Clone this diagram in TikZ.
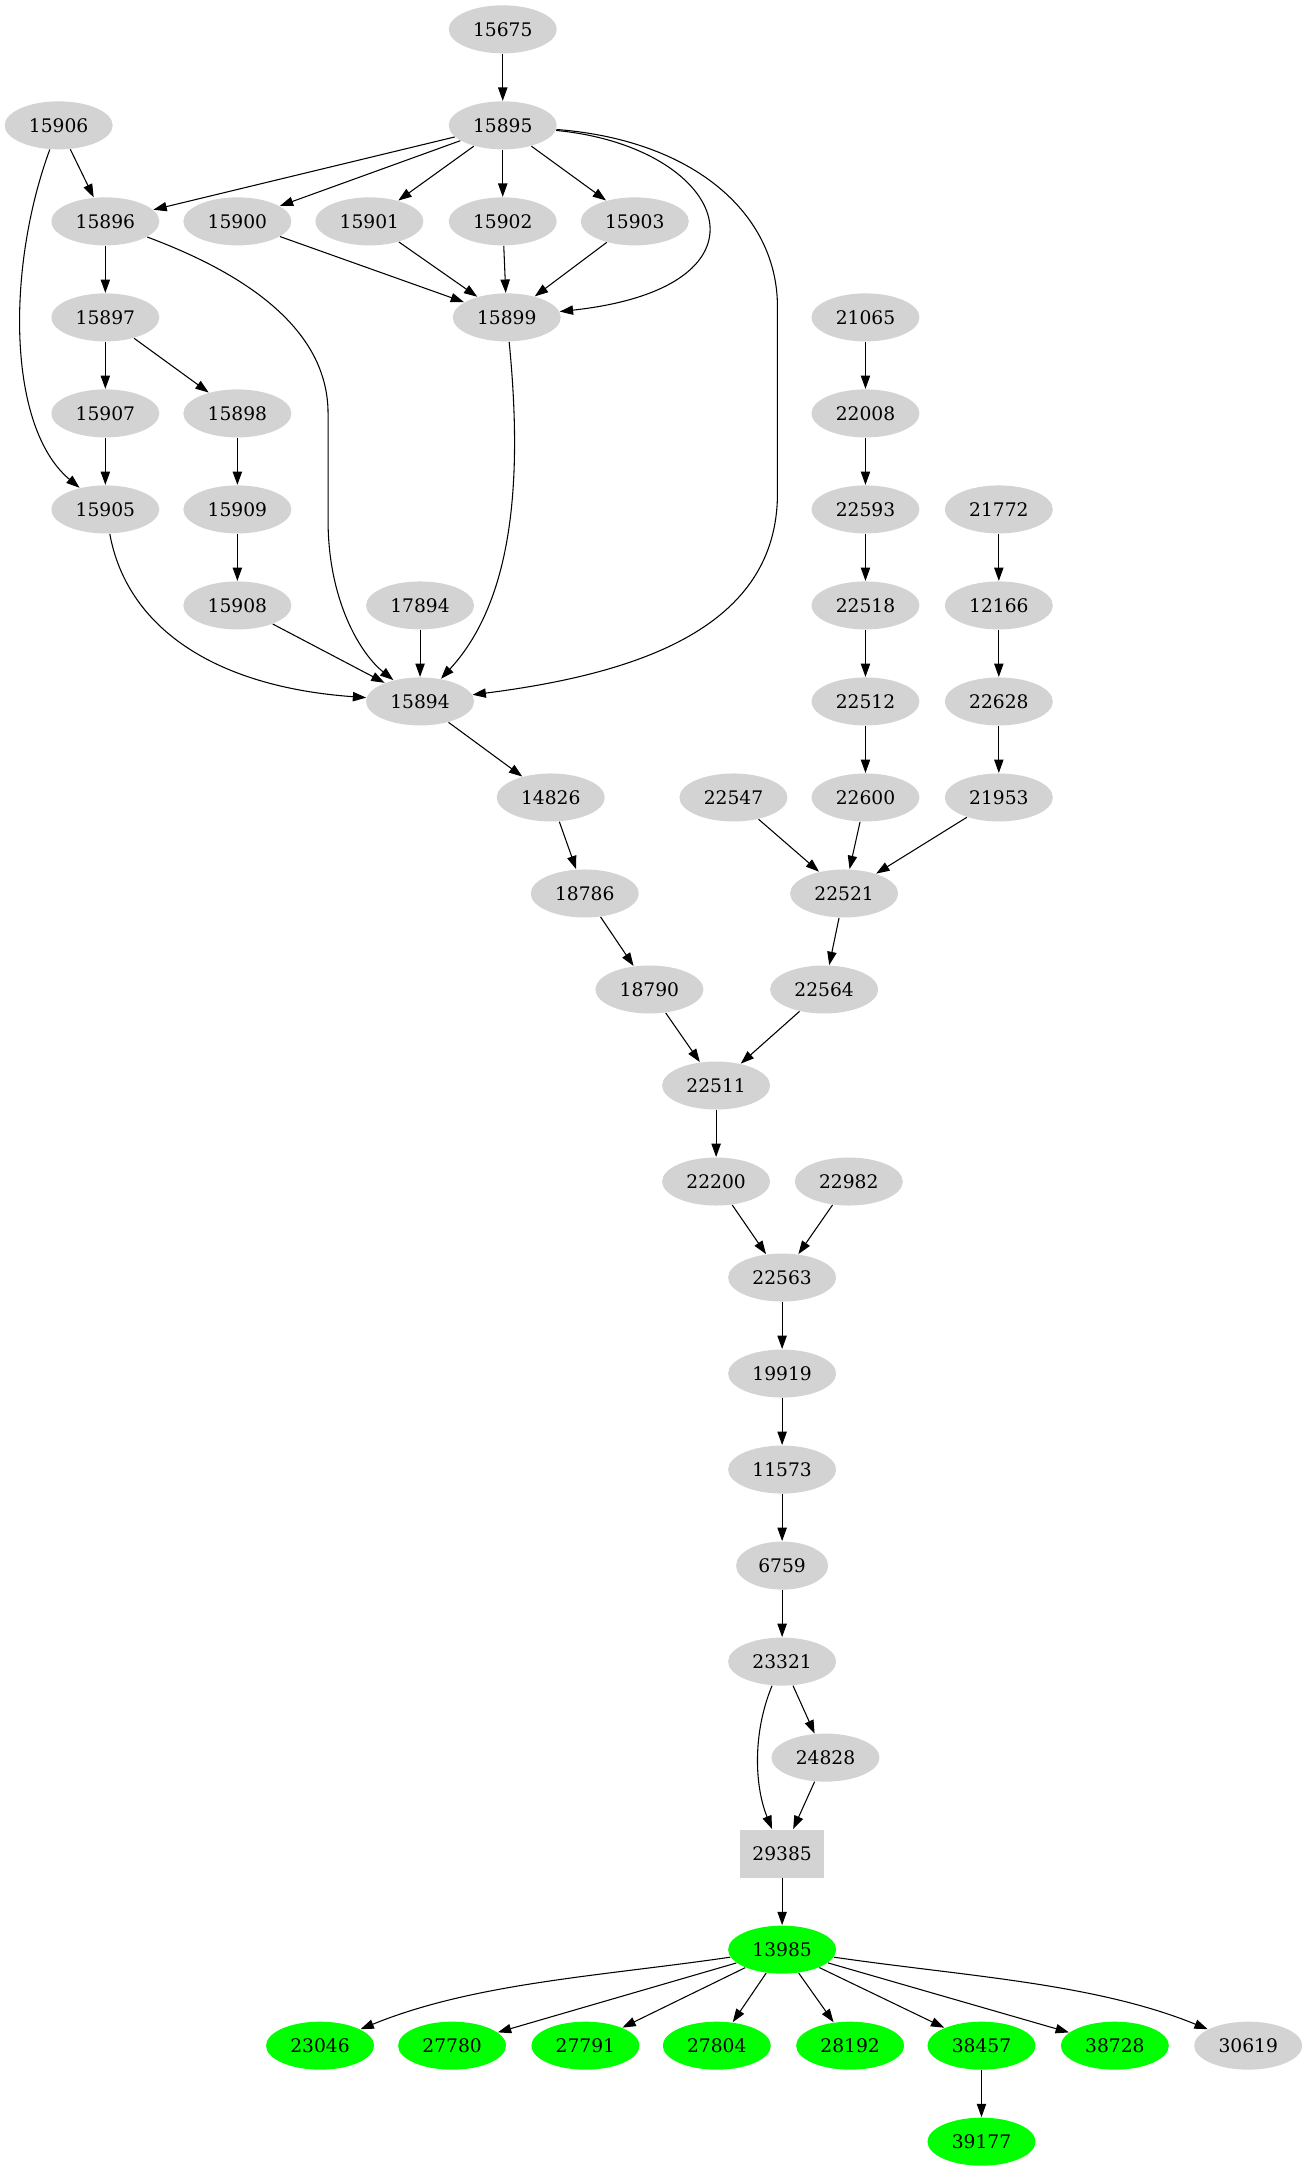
\documentclass[tikz,border=0pt]{standalone}
\usepackage{fontspec}
\setmainfont{DejaVu Serif}
\usetikzlibrary{shapes.geometric}
\usetikzlibrary{arrows.meta}
\definecolor{lgray}{HTML}{D3D3D3}
\definecolor{hitgreen}{HTML}{00FF00}

\begin{document}
\begin{tikzpicture}
[->,>={Triangle[length=10pt,width=7pt]},line width=0.8pt,x=1pt,y=-1pt,%
  every node/.style={shape=ellipse,fill=lgray,inner sep=2pt,%
    minimum width=81pt,minimum height=36pt,font=\fontsize{14}{16}\selectfont},%
  hit/.style={fill=hitgreen}]
\useasboundingbox (0,0) rectangle (976.5,1628);
% upper left block
\node (n15675) at (377,22) {15675};
\node (n15906) at (44,94) {15906};
\node (n15895) at (377,94) {15895};
\node (n15896) at (79,166) {15896};
\node (n15900) at (178,166) {15900};
\node (n15901) at (277,166) {15901};
\node (n15902) at (377,166) {15902};
\node (n15903) at (476,166) {15903};
\node (n15897) at (79,238) {15897};
\node (n15899) at (380,238) {15899};
\node (n15907) at (79,310) {15907};
\node (n15898) at (178,310) {15898};
\node (n15905) at (79,382) {15905};
\node (n15909) at (178,382) {15909};
\node (n15908) at (178,454) {15908};
\node (n17894) at (315,454) {17894};
\node (n15894) at (315,526) {15894};
% right columns
\node (n21065) at (649,238) {21065};
\node (n22008) at (649,310) {22008};
\node (n22593) at (649,382) {22593};
\node (n21772) at (749,382) {21772};
\node (n22518) at (649,454) {22518};
\node (n12166) at (749,454) {12166};
\node (n22512) at (649,526) {22512};
\node (n22628) at (749,526) {22628};
\node (n14826) at (413,598) {14826};
\node (n22547) at (550,598) {22547};
\node (n22600) at (649,598) {22600};
\node (n21953) at (749,598) {21953};
\node (n18786) at (438.5,670) {18786};
\node (n22521) at (633,670) {22521};
\node (n18790) at (487,742) {18790};
\node (n22564) at (618,742) {22564};
% middle chain
\node (n22511) at (537,814) {22511};
\node (n22200) at (537,886) {22200};
\node (n22982) at (636.5,886) {22982};
\node (n22563) at (586.5,958) {22563};
\node (n19919) at (586.5,1030) {19919};
\node (n11573) at (586.5,1102) {11573};
\node[minimum width=69pt] (n6759) at (586.5,1174) {6759};
\node (n23321) at (586.5,1246) {23321};
\node (n24828) at (619,1318) {24828};
\node[shape=rectangle,minimum width=62.5pt] (n29385) at (586.5,1390) {29385};
% bottom
\node[hit] (n13985) at (586.5,1462) {13985};
\node[hit] (n23046) at (240,1534) {23046};
\node[hit] (n27780) at (339,1534) {27780};
\node[hit] (n27791) at (439,1534) {27791};
\node[hit] (n27804) at (537.5,1534) {27804};
\node[hit] (n28192) at (637.5,1534) {28192};
\node[hit] (n38457) at (736,1534) {38457};
\node[hit] (n38728) at (836,1534) {38728};
\node (n30619) at (936,1534) {30619};
\node[hit] (n39177) at (736,1606) {39177};

\draw (n15675) -- (n15895);
\draw (n15906) -- (n15896);
\draw (n15906) .. controls (5,200) and (5,320) .. (n15905);
\draw (n15895) -- (n15896);
\draw (n15895) -- (n15900);
\draw (n15895) -- (n15901);
\draw (n15895) -- (n15902);
\draw (n15895) -- (n15903);
\draw (n15895) .. controls (545,110) and (590,215) .. (n15899);
\draw (n15895) .. controls (520,105) and (583,160) .. (583,230)
  -- (583,370) .. controls (583,470) and (480,505) .. (n15894);
\draw (n15896) -- (n15897);
\draw (n15896) .. controls (170,200) and (246,240) .. (246,310)
  -- (246,390) .. controls (246,450) and (270,490) .. (n15894);
\draw (n15900) -- (n15899);
\draw (n15901) -- (n15899);
\draw (n15902) -- (n15899);
\draw (n15903) -- (n15899);
\draw (n15897) -- (n15907);
\draw (n15897) -- (n15898);
\draw (n15907) -- (n15905);
\draw (n15898) -- (n15909);
\draw (n15909) -- (n15908);
\draw (n15905) .. controls (95,470) and (160,515) .. (n15894);
\draw (n15908) -- (n15894);
\draw (n17894) -- (n15894);
\draw (n15899) .. controls (392,360) and (385,450) .. (n15894);
\draw (n15894) -- (n14826);
\draw (n14826) -- (n18786);
\draw (n18786) -- (n18790);
\draw (n18790) -- (n22511);
\draw (n21065) -- (n22008);
\draw (n22008) -- (n22593);
\draw (n22593) -- (n22518);
\draw (n22518) -- (n22512);
\draw (n22512) -- (n22600);
\draw (n21772) -- (n12166);
\draw (n12166) -- (n22628);
\draw (n22628) -- (n21953);
\draw (n22547) -- (n22521);
\draw (n22600) -- (n22521);
\draw (n21953) -- (n22521);
\draw (n22521) -- (n22564);
\draw (n22564) -- (n22511);
\draw (n22511) -- (n22200);
\draw (n22200) -- (n22563);
\draw (n22982) -- (n22563);
\draw (n22563) -- (n19919);
\draw (n19919) -- (n11573);
\draw (n11573) -- (n6759);
\draw (n6759) -- (n23321);
\draw (n23321) -- (n24828);
\draw (n23321) .. controls (564,1300) and (566,1340) .. (n29385);
\draw (n24828) -- (n29385);
\draw (n29385) -- (n13985);
\draw (n13985) .. controls (449,1482) and (355.5,1487) .. (n23046);
\draw (n13985) -- (n27780);
\draw (n13985) -- (n27791);
\draw (n13985) -- (n27804);
\draw (n13985) -- (n28192);
\draw (n13985) -- (n38457);
\draw (n13985) -- (n38728);
\draw (n13985) .. controls (724,1482) and (820.5,1487) .. (n30619);
\draw (n38457) -- (n39177);
\end{tikzpicture}
\end{document}
